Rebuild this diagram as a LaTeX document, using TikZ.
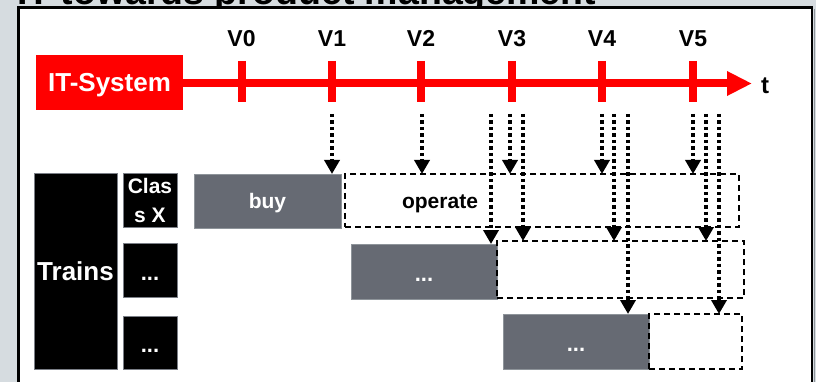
\documentclass[tikz,border=0pt]{standalone}
\usepackage{fontspec}
\setmainfont{Liberation Sans}
\usetikzlibrary{arrows.meta}

\definecolor{pagegrey}{HTML}{D6DCE0}
\definecolor{itred}{HTML}{FF0000}
\definecolor{phasegrey}{HTML}{666A73}
\definecolor{edgegrey}{HTML}{7A7E86}
\definecolor{shadegrey}{HTML}{8E949A}

\newcommand\bfsize[2]{\fontsize{#1}{#2}\selectfont\bfseries}

\tikzset{
  plain/.style={inner sep=0pt, outer sep=0pt},
  blackbox/.style={plain, rectangle, anchor=north west, fill=black, draw=edgegrey,
    line width=1pt, text=white, align=center},
  phasebox/.style={plain, rectangle, anchor=north west, fill=phasegrey, draw=shadegrey,
    line width=0.8pt, text=white, font=\bfsize{21}{24}},
  planbox/.style={plain, rectangle, anchor=north west, draw=black, line width=2pt,
    dash pattern=on 6pt off 4pt},
  dotlabel/.style={font=\bfsize{22}{24}, text height=20pt, text depth=0pt},
  tick/.style={itred, line width=8pt},
  version/.style={plain, anchor=base, font=\bfsize{23}{26}},
  dotarrow/.style={line width=3.5pt, dash pattern=on 3.5pt off 3pt,
    -{Triangle[width=15pt,length=14pt]}},
}

\begin{document}
\begin{tikzpicture}[x=1pt,y=-1pt]
  \useasboundingbox (0,0) rectangle (816,382);
  \clip (0,0) rectangle (816,382);

  % page background and heading
  \fill[pagegrey] (0,0) rectangle (816,382);
  \node[plain, anchor=base west, font=\bfsize{37.5}{40}] (title) at (17,4.5)
    {IT towards product management};

  % white content panel
  \draw[shadegrey, line width=1.5pt] (814.5,9) -- (814.5,382);
  \draw[fill=white, line width=2.5pt] (18.5,7.5) rectangle (812,400);

  % IT system time line
  \node[plain, anchor=north west, fill=itred, minimum width=147pt, minimum height=55pt,
        text=white, font=\bfsize{26}{28}, text height=18.6pt, text depth=0pt] (itsys)
        at (36,55) {IT-System};
  \coordinate (tend) at (752,83.5);
  \draw[itred, line width=8pt, -{Triangle[width=23pt,length=25pt]}] (itsys.east |- tend) -- (tend);
  \node[plain, anchor=base, font=\bfsize{24}{26}] (tlabel) at (765,94) {t};

  \foreach \x/\v in {241.5/0, 332/1, 421/2, 512/3, 602/4, 693/5} {
    \draw[tick] (\x,61) -- (\x,102);
    \node[version] (v\v) at (\x,46.5) {V\v};
  }

  % trains and their classes
  \node[blackbox, minimum width=83pt, minimum height=195pt, font=\bfsize{26}{28}]
    (trains) at (34,174) {Trains};
  \node[blackbox, minimum width=54pt, minimum height=53pt, font=\bfsize{21}{29}]
    (classx) at (123,174) {Clas\\s X};
  \node[blackbox, minimum width=54pt, minimum height=54pt, dotlabel]
    (class2) at (123,243) {...};
  \node[blackbox, minimum width=54pt, minimum height=53pt, dotlabel]
    (class3) at (123,316) {...};

  % life cycle phases
  \node[phasebox, minimum width=147pt, minimum height=54pt, text height=14pt, text depth=0pt]
    (buy) at (194,174) {buy};
  \node[planbox, minimum width=394pt, minimum height=53pt] (operate) at (345,174) {};
  \node[plain, anchor=base, font=\bfsize{21}{24}] (oplabel) at (440,208) {operate};

  \node[phasebox, minimum width=146pt, minimum height=55pt, dotlabel] (buy2) at (351,244) {...};
  \node[planbox, minimum width=247pt, minimum height=57pt] (operate2) at (497,241) {};

  \node[phasebox, minimum width=146pt, minimum height=55pt, dotlabel] (buy3) at (503,314) {...};
  \node[planbox, minimum width=93pt, minimum height=55pt] (operate3) at (649,314) {};

  % releases reaching the trains
  \foreach \n/\x in {a/332, b/422, c/491, d/510, e/523, f/602, g/614, h/628, i/693, j/706, k/719}
    \coordinate (s\n) at (\x,114);

  \draw[dotarrow] (sa) -- (sa |- buy.north);
  \draw[dotarrow] (sb) -- (sb |- operate.north);
  \draw[dotarrow] (sc) -- (sc |- buy2.north);
  \draw[dotarrow] (sd) -- (sd |- operate.north);
  \draw[dotarrow] (se) -- (se |- operate2.north);
  \draw[dotarrow] (sf) -- (sf |- operate.north);
  \draw[dotarrow] (sg) -- (sg |- operate2.north);
  \draw[dotarrow] (sh) -- (sh |- buy3.north);
  \draw[dotarrow] (si) -- (si |- operate.north);
  \draw[dotarrow] (sj) -- (sj |- operate2.north);
  \draw[dotarrow] (sk) -- (sk |- operate3.north);
\end{tikzpicture}
\end{document}
